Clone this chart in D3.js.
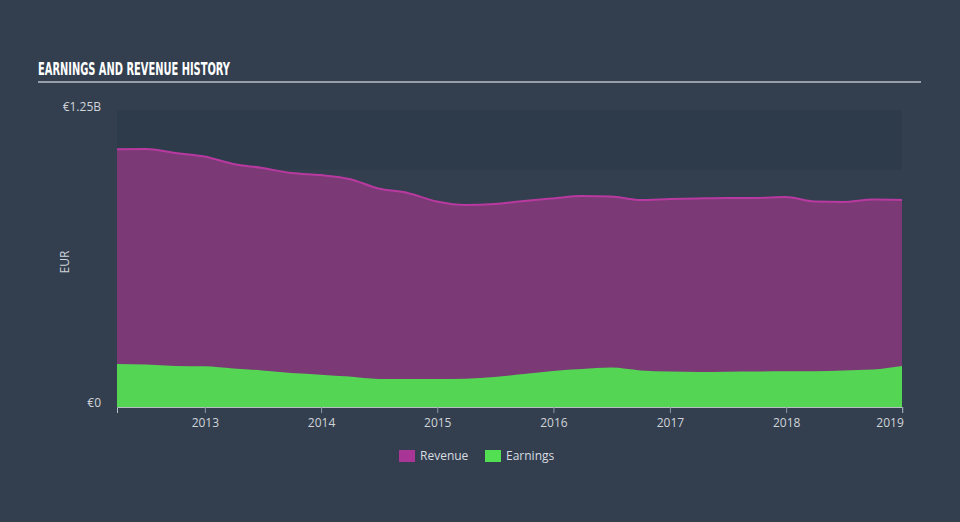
<!DOCTYPE html>
<html lang="en">
<head>
<meta charset="UTF-8">
<script src="https://d3js.org/d3.v7.min.js"></script>
<title>Earnings and Revenue History</title>
<style>
    body{
        margin: 0;
        background-color: #333f4f;
    }
    *{
        font-family: 'Open Sans', 'DejaVu Sans', sans-serif;
    }
    .title{
        font-family: 'DejaVu Sans Condensed', 'Liberation Sans Narrow', sans-serif;
        font-weight: bold;
        font-size: 18px;
        fill: #ffffff;
    }
    .tick text, .ylab{
        fill: #d0d4d9;
        font-size: 12px;
    }
    .legend text{
        fill: #d8dce0;
        font-size: 12px;
    }
</style>
</head>
<body>
<svg id="canvas" width="960" height="522"></svg>
<script>
// quarterly figures, EUR billions
let dates = ['2012-03-31','2012-06-30','2012-09-30','2012-12-31',
             '2013-03-31','2013-06-30','2013-09-30','2013-12-31',
             '2014-03-31','2014-06-30','2014-09-30','2014-12-31',
             '2015-03-31','2015-06-30','2015-09-30','2015-12-31',
             '2016-03-31','2016-06-30','2016-09-30','2016-12-31',
             '2017-03-31','2017-06-30','2017-09-30','2017-12-31',
             '2018-03-31','2018-06-30','2018-09-30','2018-12-31']
let revenue = [1.085, 1.086, 1.069, 1.054, 1.023, 1.006, 0.985, 0.976,
               0.960, 0.920, 0.901, 0.865, 0.850, 0.854, 0.867, 0.878,
               0.888, 0.886, 0.871, 0.875, 0.878, 0.880, 0.880, 0.884,
               0.865, 0.863, 0.873, 0.871]
let earnings = [0.181, 0.179, 0.173, 0.171, 0.162, 0.154, 0.143, 0.136,
                0.128, 0.118, 0.118, 0.118, 0.119, 0.126, 0.139, 0.152,
                0.160, 0.166, 0.154, 0.149, 0.147, 0.148, 0.149, 0.150,
                0.150, 0.154, 0.158, 0.173]
let yearTicks = [2013, 2014, 2015, 2016, 2017, 2018, 2019]
let yTicks = [0, 1.25]
let seriesNames = ['Revenue', 'Earnings']

let parse = d3.timeParse('%Y-%m-%d')
let rows = dates.map((d, i) => ({date: parse(d), revenue: revenue[i], earnings: earnings[i]}))

let svg = d3.select('#canvas')
let plotLeft = 117, plotRight = 902, plotTop = 110, plotBottom = 407

let x = d3.scaleTime()
    .domain([rows[0].date, rows[rows.length - 1].date])
    .range([plotLeft, plotRight])
let y = d3.scaleLinear().domain([0, 1.25]).range([plotBottom, plotTop])

// title (squeezed to look like the condensed heading font)
svg.append('text').attr('class', 'title').attr('x', 38).attr('y', 75)
    .attr('textLength', 192).attr('lengthAdjust', 'spacingAndGlyphs')
    .text('EARNINGS AND REVENUE HISTORY')
svg.append('line').attr('x1', 38).attr('x2', 921).attr('y1', 82).attr('y2', 82)
    .attr('stroke', '#b9bec5').attr('stroke-width', 1.5)

// darker band above 1.0B
svg.append('rect').attr('x', plotLeft).attr('width', plotRight - plotLeft)
    .attr('y', y(1.25)).attr('height', y(1.0) - y(1.25))
    .attr('fill', '#2e3b4a')

let curve = d3.curveMonotoneX

svg.append('path').datum(rows)
    .attr('fill', '#7b3a76')
    .attr('d', d3.area().curve(curve).x(d => x(d.date)).y0(y(0)).y1(d => y(d.revenue)))
svg.append('path').datum(rows)
    .attr('fill', 'none').attr('stroke', '#b8399f').attr('stroke-width', 2)
    .attr('d', d3.line().curve(curve).x(d => x(d.date)).y(d => y(d.revenue)))

svg.append('path').datum(rows)
    .attr('fill', '#54d654')
    .attr('d', d3.area().curve(curve).x(d => x(d.date)).y0(y(0)).y1(d => y(d.earnings)))

// x axis
let xAxis = svg.append('g').attr('transform', `translate(0,${plotBottom})`)
    .call(d3.axisBottom(x)
        .tickValues(yearTicks.map(yr => new Date(yr, 0, 1)))
        .tickFormat(d3.timeFormat('%Y'))
        .tickSizeOuter(6).tickSizeInner(6))
xAxis.select('.domain').attr('stroke', '#b9bec5')
xAxis.selectAll('.tick line').attr('stroke', '#8d96a2')
xAxis.selectAll('.tick text').attr('dy', '0.9em')
xAxis.selectAll('.tick').filter(d => d.getFullYear() === 2019)
    .select('text').attr('text-anchor', 'end').attr('x', 1)

// y labels
svg.selectAll('.ylab').data(yTicks).enter().append('text')
    .attr('class', 'ylab')
    .attr('x', 101).attr('y', d => y(d))
    .attr('text-anchor', 'end')
    .attr('dy', d => d === 0 ? '0' : '0.1em')
    .text(d => d === 0 ? '€0' : '€' + d + 'B')
svg.append('text').attr('class', 'ylab')
    .attr('transform', 'translate(69,262) rotate(-90)')
    .attr('text-anchor', 'middle')
    .text('EUR')

// legend
let colors = ['#a93596', '#52e052']
let lg = svg.append('g').attr('class', 'legend')
let lx = [399, 485]
seriesNames.forEach((name, i) => {
    lg.append('rect').attr('x', lx[i]).attr('y', 450).attr('width', 16).attr('height', 12)
        .attr('fill', colors[i])
    lg.append('text').attr('x', lx[i] + 21).attr('y', 460).text(name)
})
</script>
</body>
</html>
